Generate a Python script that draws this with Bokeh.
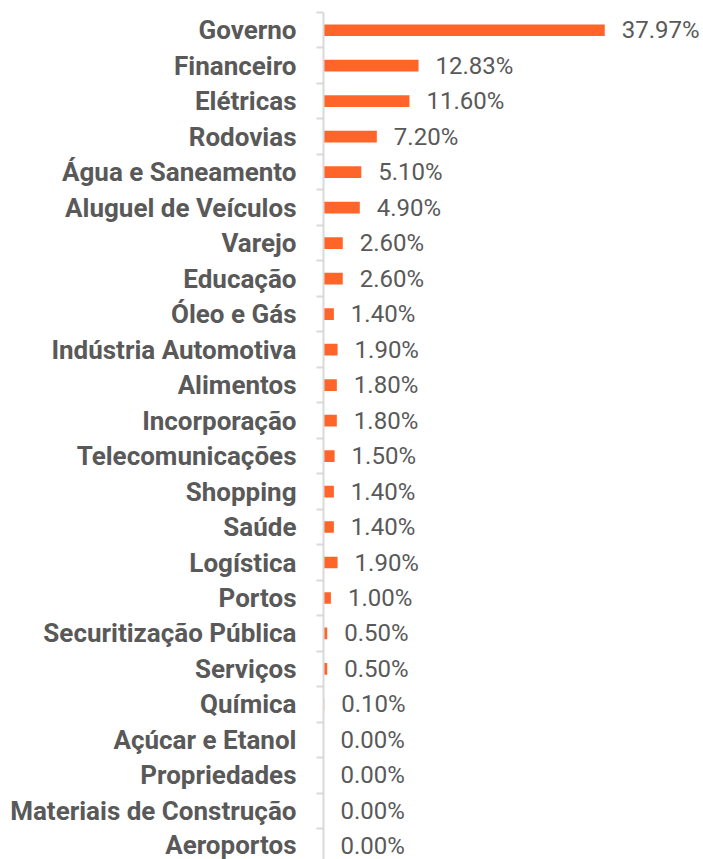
from bokeh.plotting import figure
from bokeh.models import ColumnDataSource, Range1d, FixedTicker
from bokeh.core.properties import value
from bokeh.embed import file_html
from bokeh.resources import INLINE

categories = ["Governo", "Financeiro", "Elétricas", "Rodovias", "Água e Saneamento",
              "Aluguel de Veículos", "Varejo", "Educação", "Óleo e Gás",
              "Indústria Automotiva", "Alimentos", "Incorporação", "Telecomunicações",
              "Shopping", "Saúde", "Logística", "Portos", "Securitização Pública",
              "Serviços", "Química", "Açúcar e Etanol", "Propriedades",
              "Materiais de Construção", "Aeroportos"]
values = [37.97, 12.83, 11.60, 7.20, 5.10, 4.90, 2.60, 2.60, 1.40, 1.90, 1.80, 1.80,
          1.50, 1.40, 1.40, 1.90, 1.00, 0.50, 0.50, 0.10, 0.00, 0.00, 0.00, 0.00]
value_labels = [f"{v:.2f}%" for v in values]

n = len(categories)
idx = list(range(n))
source = ColumnDataSource(dict(y=idx, v=values, lab=value_labels, cat=categories))

p = figure(width=703, height=859, output_backend="svg", toolbar_location=None,
           x_range=Range1d(0, 51.3), y_range=Range1d(n - 0.63, -0.5),
           min_border_left=323, min_border_right=0, min_border_top=12, min_border_bottom=0)

p.hbar(y="y", left=0, right="v", height=0.33, source=source,
       fill_color="#FF6428", line_color=None)
p.text(x="v", y="y", text="lab", source=source, x_offset=17,
       text_baseline="middle", text_align="left",
       text_font=value("Roboto"), text_font_size="24px", text_color="#595959")

p.xaxis.visible = False
p.xgrid.visible = False
p.ygrid.visible = False
p.outline_line_color = None

ya = p.yaxis[0]
ya.ticker = FixedTicker(ticks=idx, minor_ticks=[i - 0.5 for i in range(n + 1)])
ya.major_label_overrides = {i: c for i, c in enumerate(categories)}
ya.major_tick_line_color = None
ya.major_tick_out = 0
ya.major_tick_in = 0
ya.minor_tick_out = 7
ya.minor_tick_in = 0
ya.minor_tick_line_color = "#D9D9D9"
ya.minor_tick_line_width = 2
ya.axis_line_color = "#D9D9D9"
ya.axis_line_width = 2
ya.major_label_standoff = 20
ya.major_label_text_font = "Roboto"
ya.major_label_text_font_style = "bold"
ya.major_label_text_font_size = "26px"
ya.major_label_text_color = "#595959"

open("out.html", "w").write(file_html(p, INLINE))
